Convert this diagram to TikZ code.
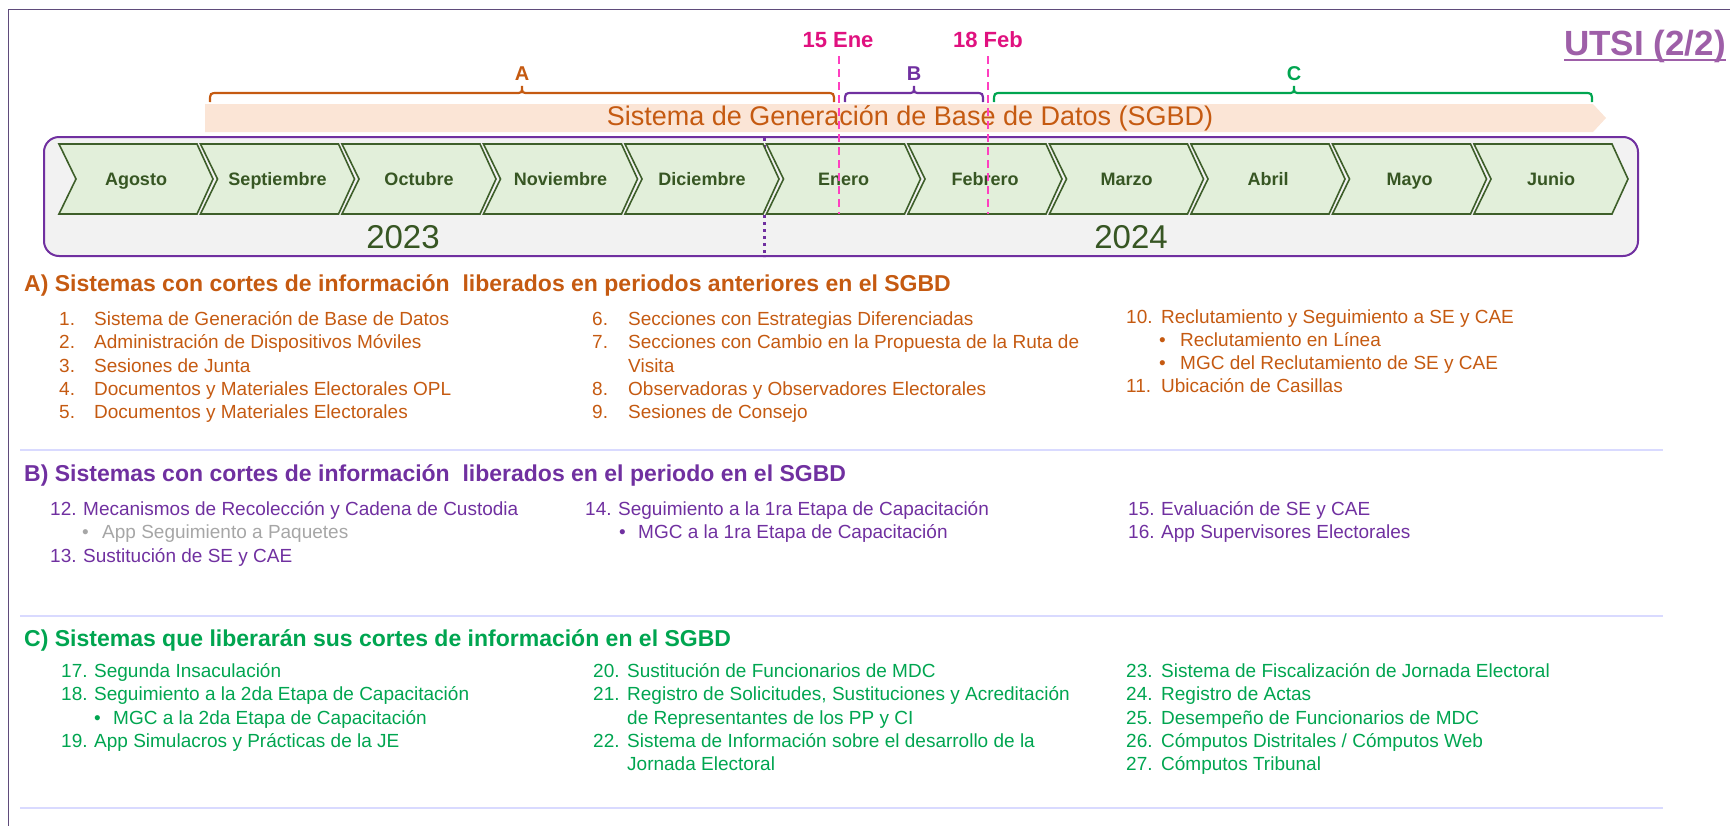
\documentclass[tikz,border=0pt]{standalone}
\usepackage{fontspec}
\setmainfont{Liberation Sans}
\definecolor{orA}{HTML}{C55A11}
\definecolor{puB}{HTML}{7030A0}
\definecolor{grC}{HTML}{00A550}
\definecolor{chevfill}{HTML}{E2EFDA}
\definecolor{chevdraw}{HTML}{3E5F2A}
\definecolor{dkgreen}{HTML}{375623}
\definecolor{bandfill}{HTML}{FBE5D6}
\definecolor{boxfill}{HTML}{F2F2F2}
\definecolor{framecol}{HTML}{5F4B7B}
\definecolor{pinkline}{HTML}{FF3FC0}
\definecolor{pinktxt}{HTML}{E0117F}
\definecolor{utsicol}{HTML}{9E5FA8}
\definecolor{sepcol}{HTML}{D9DAFF}
\definecolor{graytxt}{HTML}{A6A6A6}
\newcommand\nbx[2]{\makebox[#1pt][l]{#2}}
\tikzset{
  chev/.style={fill=chevfill,draw=chevdraw,line width=1.6pt,line join=miter},
  chevtxt/.style={font=\bfseries\fontsize{18}{18}\selectfont,text=dkgreen,inner sep=0pt,anchor=base},
  yeartxt/.style={font=\fontsize{33}{33}\selectfont,text=dkgreen,inner sep=0pt},
  itm/.style={anchor=base west,inner sep=0pt,font=\fontsize{19}{23}\selectfont},
  head/.style={anchor=base west,inner sep=0pt,font=\bfseries\fontsize{23}{27}\selectfont},
  bracelbl/.style={font=\bfseries\fontsize{20}{20}\selectfont,inner sep=0pt},
  bracepath/.style={line width=2.2pt},
  pinkdash/.style={draw=pinkline,line width=2pt,dash pattern=on 8pt off 5pt},
  datelbl/.style={font=\bfseries\fontsize{22}{22}\selectfont,text=pinktxt,inner sep=0pt},
  sepline/.style={draw=sepcol,line width=2pt}
}
\begin{document}
\begin{tikzpicture}[x=1pt,y=-1pt]
\useasboundingbox (0,0) rectangle (1730,825);
% outer frame
\begin{scope}
\clip (0,0) rectangle (1730,825);
\draw[draw=framecol,line width=1.8pt] (8.5,9.5) rectangle (1760,850);
\end{scope}
% band arrow
\fill[bandfill] (205,104) -- (1593,104) -- (1606,118) -- (1593,132) -- (205,132) -- cycle;
\node[font=\fontsize{27}{27}\selectfont,text=orA,inner sep=0pt] (sgbd) at (910,118) {Sistema de Generación de Base de Datos (SGBD)};
% gray box
\draw[fill=boxfill,draw=puB,line width=2pt,rounded corners=15pt] (44,137) rectangle (1638,256);
% dotted line
\draw[draw=puB,line width=3pt,dash pattern=on 3pt off 4pt] (764,138) -- (764,257);
% chevrons
\foreach \m [count=\i from 0] in {Agosto,Septiembre,Octubre,Noviembre,Diciembre,Enero,Febrero,Marzo,Abril,Mayo,Junio}{
  \pgfmathsetmacro\xo{59+141.5*\i}
  \draw[chev] (\xo,144) -- ++(138,0) -- ++(16,35) -- ++(-16,35) -- ++(-138,0) -- ++(17,-35) -- cycle;
  \node[chevtxt] (mes\i) at (\xo+77,185.5) {\m};
}
\node[yeartxt] (y23) at (403,237) {2023};
\node[yeartxt] (y24) at (1131,237) {2024};
% braces
\draw[bracepath,draw=orA] (210,102) .. controls (210,93) .. (218,93) -- (515,93) .. controls (522,93) .. (522,86) .. controls (522,93) .. (529,93) -- (826,93) .. controls (834,93) .. (834,102);
\draw[bracepath,draw=puB] (845,102) .. controls (845,93) .. (853,93) -- (907,93) .. controls (914,93) .. (914,86) .. controls (914,93) .. (921,93) -- (975,93) .. controls (983,93) .. (983,102);
\draw[bracepath,draw=grC] (994,102) .. controls (994,93) .. (1002,93) -- (1287,93) .. controls (1294,93) .. (1294,86) .. controls (1294,93) .. (1301,93) -- (1584,93) .. controls (1592,93) .. (1592,102);
\node[bracelbl,text=orA] (lblA) at (522,74) {A};
\node[bracelbl,text=puB] (lblB) at (914,74) {B};
\node[bracelbl,text=grC] (lblC) at (1294,74) {C};
% pink dashed lines
\coordinate (e1) at (839,56);
\coordinate (e2) at (839,214);
\coordinate (f1) at (988,56);
\coordinate (f2) at (988,214);
\draw[pinkdash] (e1) -- (e2);
\draw[pinkdash] (f1) -- (f2);
\node[datelbl] (d15) at (838,40) {15 Ene};
\node[datelbl] (d18) at (988,40) {18 Feb};
% UTSI
\node[anchor=base,inner sep=0pt,font=\bfseries\fontsize{35}{35}\selectfont,text=utsicol] (utsi) at (1645,55) {UTSI (2/2)};
\draw[draw=utsicol,line width=2.5pt] ([yshift=-5pt]utsi.base west) -- ([yshift=-5pt]utsi.base east);
% Section A
\node[head,text=orA] (hA) at (24,291) {A) Sistemas con cortes de información~ liberados en periodos anteriores en el SGBD};
\begin{scope}[every node/.append style={itm,text=orA}]
\node (a1) at (59,325.5) {\nbx{35}{1.}Sistema de Generación de Base de Datos};
\node (a2) at (59,348.8) {\nbx{35}{2.}Administración de Dispositivos Móviles};
\node (a3) at (59,372) {\nbx{35}{3.}Sesiones de Junta};
\node (a4) at (59,395.3) {\nbx{35}{4.}Documentos y Materiales Electorales OPL};
\node (a5) at (59,418.5) {\nbx{35}{5.}Documentos y Materiales Electorales};
\node (a6) at (592,325.5) {\nbx{36}{6.}Secciones con Estrategias Diferenciadas};
\node (a7) at (592,348.8) {\nbx{36}{7.}Secciones con Cambio en la Propuesta de la Ruta de};
\node (a7b) at (628,372) {Visita};
\node (a8) at (592,395.3) {\nbx{36}{8.}Observadoras y Observadores Electorales};
\node (a9) at (592,418.5) {\nbx{36}{9.}Sesiones de Consejo};
\node (a10) at (1126,323.5) {\nbx{35}{10.}Reclutamiento y Seguimiento a SE y CAE};
\node (a10a) at (1159,346.5) {\nbx{21}{•}Reclutamiento en Línea};
\node (a10b) at (1159,369.5) {\nbx{21}{•}MGC del Reclutamiento de SE y CAE};
\node (a11) at (1126,392.5) {\nbx{35}{11.}Ubicación de Casillas};
\end{scope}
\draw[sepline] (20,450) -- (1663,450);
% Section B
\node[head,text=puB] (hB) at (24,481) {B) Sistemas con cortes de información~ liberados en el periodo en el SGBD};
\begin{scope}[every node/.append style={itm,text=puB}]
\node (b12) at (50,515.5) {\nbx{33}{12.}Mecanismos de Recolección y Cadena de Custodia};
\node[text=graytxt] (b12a) at (82,538.8) {\nbx{20}{•}App Seguimiento a Paquetes};
\node (b13) at (50,562) {\nbx{33}{13.}Sustitución de SE y CAE};
\node (b14) at (585,515.5) {\nbx{33}{14.}Seguimiento a la 1ra Etapa de Capacitación};
\node (b14a) at (619,538.8) {\nbx{19}{•}MGC a la 1ra Etapa de Capacitación};
\node (b15) at (1128,515.5) {\nbx{33}{15.}Evaluación de SE y CAE};
\node (b16) at (1128,538.8) {\nbx{33}{16.}App Supervisores Electorales};
\end{scope}
\draw[sepline] (20,616) -- (1663,616);
% Section C
\node[head,text=grC] (hC) at (24,646) {C) Sistemas que liberarán sus cortes de información en el SGBD};
\begin{scope}[every node/.append style={itm,text=grC}]
\node (c17) at (61,677.5) {\nbx{33}{17.}Segunda Insaculación};
\node (c18) at (61,700.8) {\nbx{33}{18.}Seguimiento a la 2da Etapa de Capacitación};
\node (c18a) at (94,724) {\nbx{19}{•}MGC a la 2da Etapa de Capacitación};
\node (c19) at (61,747.3) {\nbx{33}{19.}App Simulacros y Prácticas de la JE};
\node (c20) at (593,677.5) {\nbx{34}{20.}Sustitución de Funcionarios de MDC};
\node (c21) at (593,700.8) {\nbx{34}{21.}Registro de Solicitudes, Sustituciones y Acreditación};
\node (c21b) at (627,724) {de Representantes de los PP y CI};
\node (c22) at (593,747.3) {\nbx{34}{22.}Sistema de Información sobre el desarrollo de la};
\node (c22b) at (627,770.5) {Jornada Electoral};
\node (c23) at (1126,677.5) {\nbx{35}{23.}Sistema de Fiscalización de Jornada Electoral};
\node (c24) at (1126,700.8) {\nbx{35}{24.}Registro de Actas};
\node (c25) at (1126,724) {\nbx{35}{25.}Desempeño de Funcionarios de MDC};
\node (c26) at (1126,747.3) {\nbx{35}{26.}Cómputos Distritales / Cómputos Web};
\node (c27) at (1126,770.5) {\nbx{35}{27.}Cómputos Tribunal};
\end{scope}
\draw[sepline] (20,808) -- (1663,808);
\end{tikzpicture}
\end{document}
